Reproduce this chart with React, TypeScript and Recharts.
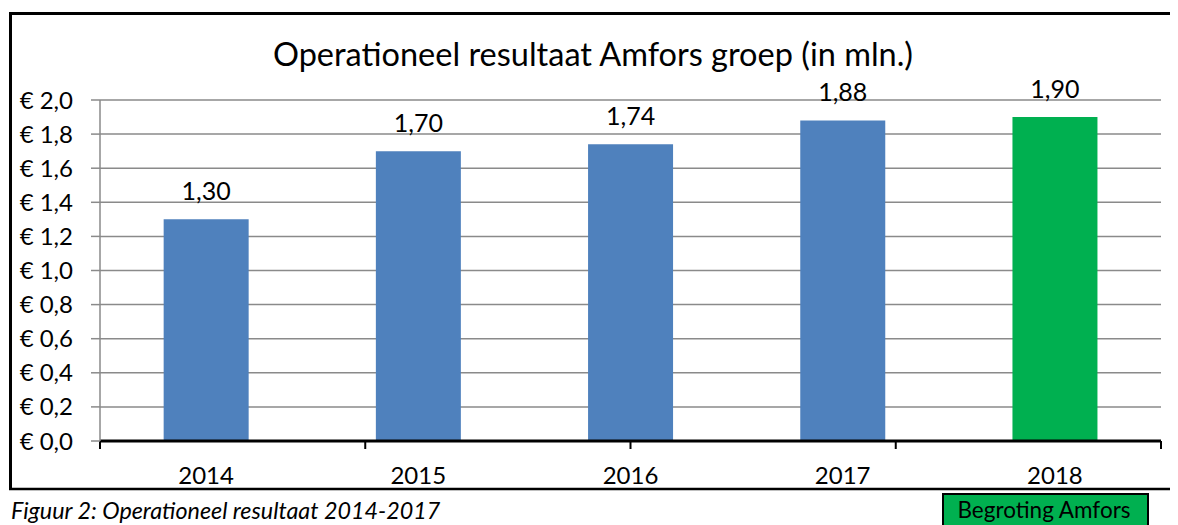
import React from "react";
import { BarChart, Bar, XAxis, YAxis, CartesianGrid, Cell, LabelList } from "recharts";

const years = ["2014", "2015", "2016", "2017", "2018"];
const results = [1.3, 1.7, 1.74, 1.88, 1.9];
const yTicks = [0, 0.2, 0.4, 0.6, 0.8, 1.0, 1.2, 1.4, 1.6, 1.8, 2.0];
const edgeTicks = [0, 1, 2, 3, 4, 5];
const budgetYear = "2018";

const title = "Operationeel resultaat Amfors groep (in mln.)";
const caption = "Figuur 2: Operationeel resultaat 2014-2017";
const budgetLabel = "Begroting Amfors";

const BLUE = "#4F81BD";
const GREEN = "#00B050";
const FONT = "Lato, 'Open Sans', sans-serif";

const data = years.map((y, i) => ({ year: y, value: results[i] }));

const fmtAxis = (v: number) => `€ ${v.toFixed(1).replace(".", ",")}`;
const fmtLabel = (v: any) => Number(v).toFixed(2).replace(".", ",");

export default function App() {
  return (
    <div style={{ position: "relative", width: 1170, height: 517, overflow: "hidden", background: "#fff" }}>
      <div style={{ position: "absolute", left: 0, top: 0 }}>
        <BarChart
          width={1170}
          height={480}
          data={data}
          margin={{ top: 92, right: 17, bottom: 6, left: 0 }}
          barCategoryGap="30%"
        >
          <CartesianGrid vertical={false} stroke="#8a8a8a" strokeWidth={1.5} yAxisId="y" xAxisId="cat" />
          <XAxis
            xAxisId="cat"
            dataKey="year"
            height={40}
            axisLine={false}
            tickLine={false}
            tickSize={0}
            tickMargin={25}
            tick={{ fill: "#000", fontSize: 24, fontFamily: FONT }}
          />
          <XAxis
            xAxisId="axe"
            type="number"
            domain={[0, 5]}
            ticks={edgeTicks}
            allowDataOverflow
            height={1}
            axisLine={{ stroke: "#000", strokeWidth: 3 }}
            tickLine={{ stroke: "#000", strokeWidth: 2 }}
            tickSize={8}
            tickFormatter={() => ""}
          />
          <YAxis
            yAxisId="y"
            width={92}
            domain={[0, 2]}
            ticks={yTicks}
            interval={0}
            tickFormatter={fmtAxis}
            axisLine={{ stroke: "#8a8a8a", strokeWidth: 1.5 }}
            tickLine={{ stroke: "#8a8a8a", strokeWidth: 1.5 }}
            tickSize={9}
            tickMargin={18}
            tick={{ fill: "#000", fontSize: 24, fontFamily: FONT }}
          />
          <Bar dataKey="value" xAxisId="cat" yAxisId="y" isAnimationActive={false}>
            {data.map((d) => (
              <Cell key={d.year} fill={d.year === budgetYear ? GREEN : BLUE} />
            ))}
            <LabelList
              dataKey="value"
              position="top"
              offset={19}
              formatter={fmtLabel}
              style={{ fill: "#000", fontSize: 25, fontFamily: FONT }}
            />
          </Bar>
        </BarChart>
      </div>
      <svg
        width={1170}
        height={517}
        style={{ position: "absolute", left: 0, top: 0, pointerEvents: "none" }}
      >
        <line x1={1} y1={5.5} x2={1170} y2={5.5} stroke="#000" strokeWidth={3} />
        <line x1={2.5} y1={4} x2={2.5} y2={482} stroke="#000" strokeWidth={3} />
        <line x1={1} y1={481} x2={1170} y2={481} stroke="#000" strokeWidth={2.5} />
        <text x={585} y={57.5} textAnchor="middle" fontFamily={FONT} fontSize={32.5} fill="#000">
          {title}
        </text>
        <text x={3} y={511} fontFamily={FONT} fontSize={23.3} fontStyle="italic" fill="#000">
          {caption}
        </text>
        <rect x={935} y={486} width={205} height={45} fill={GREEN} stroke="#000" strokeWidth={2} />
        <text x={1036} y={510} textAnchor="middle" fontFamily={FONT} fontSize={22.5} fill="#000">
          {budgetLabel}
        </text>
      </svg>
    </div>
  );
}
